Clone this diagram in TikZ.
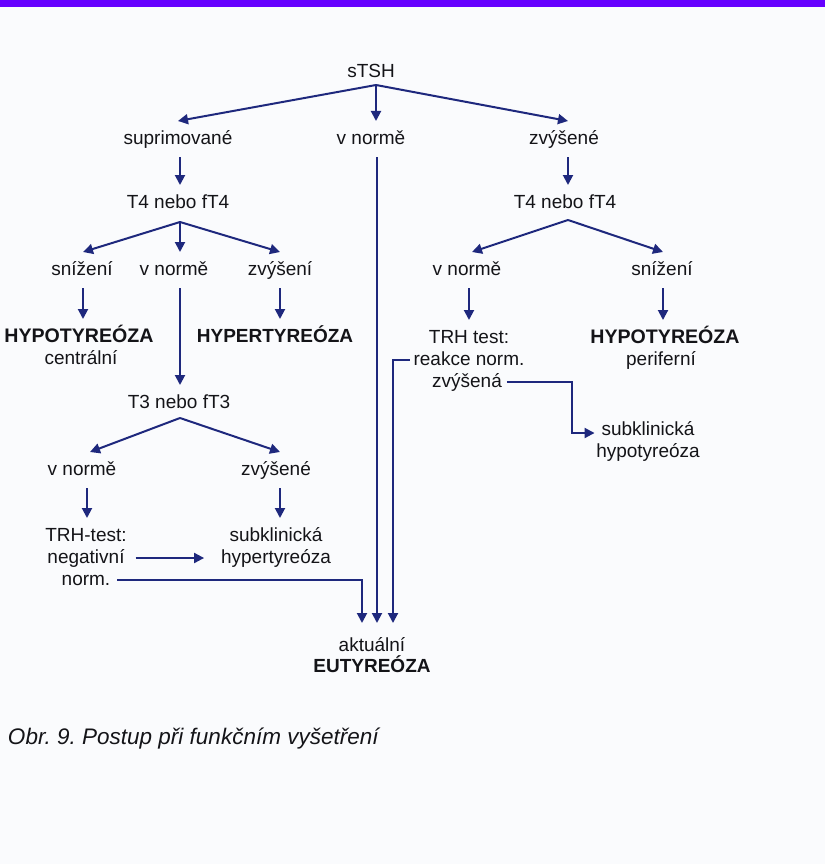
\documentclass[tikz,border=0pt]{standalone}
\usepackage{fontspec}
\setmainfont{Liberation Sans}
\usetikzlibrary{arrows.meta,calc}
\frenchspacing
\definecolor{ink}{RGB}{20,20,24}
\definecolor{navy}{RGB}{30,40,125}
\definecolor{paper}{RGB}{250,251,253}
\definecolor{topbar}{RGB}{102,0,255}
\newcommand{\figfs}{\fontsize{19pt}{22pt}\selectfont}
\newcommand{\capfs}{\fontsize{22.5pt}{26pt}\selectfont}
\begin{document}
\begin{tikzpicture}[x=1pt,y=-1pt,
  t/.style={font=\figfs, text=ink, inner sep=0pt, outer xsep=0pt, outer ysep=9pt,
            text height=14pt, text depth=4pt, anchor=base},
  b/.style={t, font=\figfs\bfseries},
  arr/.style={draw=navy, line width=2pt, -{Triangle[length=10pt,width=10pt]}}]
\useasboundingbox (0,0) rectangle (825,864);
\fill[paper] (0,0) rectangle (825,864);
\fill[topbar] (0,0) rectangle (825,7);

% nodes
\node[t] (stsh) at (371,78) {sTSH};
\node[t] (supr) at (178,144) {suprimované};
\node[t] (vn1) at (371,144) {v normě};
\node[t] (zv1) at (564,144) {zvýšené};
\node[t] (t4l) at (178,208) {T4 nebo fT4};
\node[t] (t4r) at (565,208) {T4 nebo fT4};
\node[t] (sn2) at (82,275) {snížení};
\node[t] (vn2) at (174,275) {v normě};
\node[t] (zvi2) at (280,275) {zvýšení};
\node[t] (vn3) at (467,275) {v normě};
\node[t] (sn3) at (662,275) {snížení};
\node[b, font=\fontsize{19.6pt}{22pt}\selectfont\bfseries] (hypoL) at (79,342) {HYPOTYREÓZA};
\node[t] (centr) at (81,364) {centrální};
\node[b] (hyper) at (275,342) {HYPERTYREÓZA};
\node[t] (trh1) at (469,343) {TRH test:};
\node[t] (rn) at (469,365) {reakce norm.};
\node[t] (zvs) at (467,387) {zvýšená};
\node[b, font=\fontsize{19.6pt}{22pt}\selectfont\bfseries] (hypoR) at (665,343) {HYPOTYREÓZA};
\node[t] (perif) at (661,365) {periferní};
\node[t] (t3) at (179,408) {T3 nebo fT3};
\node[t] (vn4) at (82,475) {v normě};
\node[t] (zv4) at (276,475) {zvýšené};
\node[t] (trhL) at (86,541) {TRH-test:};
\node[t] (neg) at (86,563) {negativní};
\node[t] (norm) at (86,585) {norm.};
\node[t] (sk1) at (276,541) {subklinická};
\node[t] (hyt) at (276,563) {hypertyreóza};
\node[t] (sk2) at (648,435) {subklinická};
\node[t] (hyo) at (648,457) {hypotyreóza};
\node[t, outer ysep=14pt] (akt) at (372,651) {aktuální};
\node[b] (eu) at (372,672) {EUTYREÓZA};
\node[t, anchor=base west, font=\capfs\itshape] (cap) at (8,744) {Obr. 9. Postup při funkčním vyšetření};

% fork points
\coordinate (f1) at ([xshift=5pt,yshift=-7pt]stsh.base);
\coordinate (f2) at ([xshift=2pt,yshift=-14pt]t4l.base);
\coordinate (f3) at ([xshift=3pt,yshift=-12pt]t4r.base);
\coordinate (f4) at ([xshift=1pt,yshift=-10pt]t3.base);

% connectors
\draw[arr] (f1) -- (supr.north);
\draw[arr] (f1) -- ([xshift=5pt]vn1.north);
\draw[arr] (f1) -- ([xshift=4pt]zv1.north);
\draw[arr] ([xshift=2pt]supr.south) -- ([xshift=2pt]t4l.north);
\draw[arr] ([xshift=6pt]vn1.south) -- ([xshift=5pt]akt.north);
\draw[arr] ([xshift=4pt]zv1.south) -- ([xshift=3pt]t4r.north);

\draw[arr] (f2) -- ([xshift=1pt]sn2.north);
\draw[arr] (f2) -- ([xshift=6pt]vn2.north);
\draw[arr] (f2) -- (zvi2.north);
\draw[arr] (f3) -- ([xshift=5pt]vn3.north);
\draw[arr] (f3) -- ([xshift=1pt]sn3.north);

\draw[arr] ([xshift=1pt]sn2.south) -- ([xshift=4pt]hypoL.north);
\draw[arr] ([xshift=6pt]vn2.south) -- ([xshift=1pt]t3.north);
\draw[arr] (zvi2.south) -- ([xshift=5pt]hyper.north);
\draw[arr] ([xshift=2pt]vn3.south) -- (trh1.north);
\draw[arr] ([xshift=1pt]sn3.south) -- ([xshift=-2pt]hypoR.north);

\draw[arr] (f4) -- ([xshift=8pt]vn4.north);
\draw[arr] (f4) -- ([xshift=4pt]zv4.north);
\draw[arr] ([xshift=5pt]vn4.south) -- ([xshift=1pt]trhL.north);
\draw[arr] ([xshift=4pt]zv4.south) -- ([xshift=4pt]sk1.north);
\draw[arr] ([xshift=11pt]neg.east) -- ([xshift=-17pt]hyt.west);
\draw[arr] ([xshift=7pt]norm.east) -| ([xshift=-10pt]akt.north);
\draw[arr] ([xshift=-4pt]rn.west) -| ([xshift=21pt]akt.north);
\draw[arr] ([xshift=5pt]zvs.east) -| ([xshift=-30pt,yshift=-3pt]sk2.west) -- ([xshift=-7pt,yshift=-3pt]sk2.west);
\end{tikzpicture}
\end{document}
